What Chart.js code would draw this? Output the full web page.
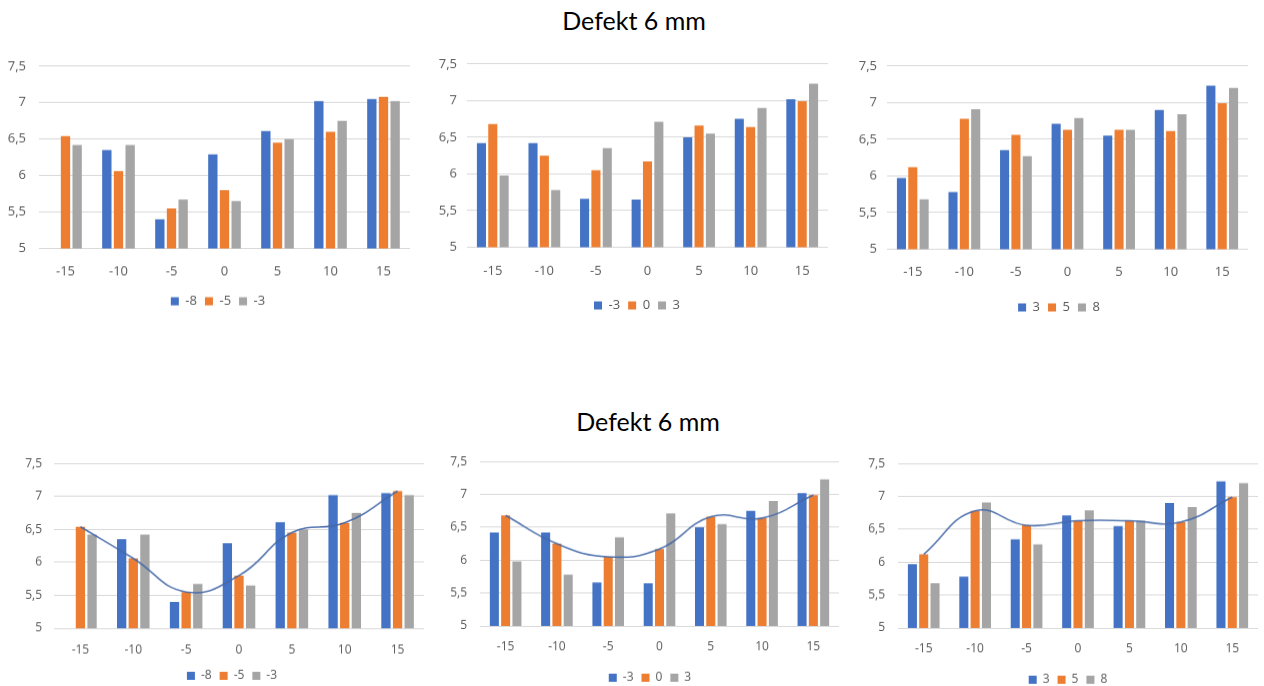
<!DOCTYPE html>
<html>
<head>
<meta charset="utf-8">
<script src="https://cdn.jsdelivr.net/npm/chart.js@4.4.1/dist/chart.umd.min.js"></script>
<style>
  html, body { margin: 0; padding: 0; background: #fff; width: 1264px; height: 686px; overflow: hidden; position: relative; }
  .ttl { position: absolute; font-family: Lato, "Open Sans", sans-serif; font-size: 25px; line-height: 25px; color: #000; white-space: nowrap; transform: translateX(-50%); }
  canvas { position: absolute; }
</style>
</head>
<body>
<div class="ttl" style="left:634px; top:8px;">Defekt 6 mm</div>
<div class="ttl" style="left:648px; top:409px;">Defekt 6 mm</div>
<script>
// Shared axes
const categories = ['-15', '-10', '-5', '0', '5', '10', '15'];
const yTicks = [5, 5.5, 6, 6.5, 7, 7.5];

// Panel 1: series -8, -5, -3
const p1Names = ['-8', '-5', '-3'];
const p1Blue = [null, 6.35, 5.40, 6.29, 6.61, 7.02, 7.05];
const p1Orange = [6.54, 6.06, 5.55, 5.80, 6.45, 6.60, 7.08];
const p1Gray = [6.42, 6.42, 5.67, 5.65, 6.50, 6.75, 7.02];

// Panel 2: series -3, 0, 3
const p2Names = ['-3', '0', '3'];
const p2Blue = [6.42, 6.42, 5.66, 5.65, 6.50, 6.75, 7.02];
const p2Orange = [6.68, 6.25, 6.05, 6.17, 6.66, 6.64, 6.99];
const p2Gray = [5.98, 5.78, 6.35, 6.71, 6.55, 6.90, 7.23];

// Panel 3: series 3, 5, 8
const p3Names = ['3', '5', '8'];
const p3Blue = [5.97, 5.78, 6.35, 6.71, 6.55, 6.90, 7.23];
const p3Orange = [6.12, 6.78, 6.56, 6.63, 6.63, 6.61, 6.99];
const p3Gray = [5.68, 6.91, 6.27, 6.79, 6.63, 6.84, 7.20];

const COLORS = ['#4472C4', '#ED7D31', '#A5A5A5'];
const TEXT = '#595959';
const GRID = '#D9D9D9';
const Y_AXIS_W = 38;

// Centres the legend row on a given x position
const legendCenter = {
  id: 'legendCenter',
  afterLayout(chart, args, opts) {
    const lg = chart.legend;
    if (!lg || opts.x == null) return;
    const w = lg.right - lg.left;
    lg.left = opts.x - w / 2;
    lg.right = opts.x + w / 2;
  }
};

// Page rectangles of each value area, with label and legend positions
const panels = [
  { plotL: 39,  plotR: 410,  plotT: 66,  plotB: 250, xLab: 272, legY: 302, legX: 218,  font: 13, yPad: 13 },
  { plotL: 467, plotR: 828,  plotT: 64,  plotB: 248, xLab: 271, legY: 306, legX: 637,  font: 13, yPad: 10 },
  { plotL: 887, plotR: 1248, plotT: 66,  plotB: 250, xLab: 272, legY: 308, legX: 1059, font: 13, yPad: 10 },
  { plotL: 54,  plotR: 424,  plotT: 463, plotB: 629, xLab: 649, legY: 676, legX: 232,  font: 12, yPad: 12 },
  { plotL: 480, plotR: 839,  plotT: 461, plotB: 627, xLab: 646, legY: 678, legX: 650,  font: 12, yPad: 13 },
  { plotL: 898, plotR: 1258, plotT: 463, plotB: 629, xLab: 648, legY: 680, legX: 1068, font: 12, yPad: 13 }
];

function makeChart(box, names, blue, orange, gray, trend) {
  const legPad = 8;
  const f = box.font;
  const legH = f + legPad + 10;
  const legTop = box.legY - (legPad + f / 2);
  const cx = box.plotL - Y_AXIS_W;
  let cy = box.plotT - 16;
  const W = box.plotR + 4 - cx;
  let H = Math.ceil(legTop + legH - cy);
  const xAxisH = legTop - box.plotB;
  const xTickPad = Math.max(0, box.xLab - box.plotB - f * 1.2 + 1);

  const canvas = document.createElement('canvas');
  canvas.width = W;
  canvas.height = H;
  canvas.style.left = cx + 'px';
  canvas.style.top = cy + 'px';
  canvas.style.width = W + 'px';
  canvas.style.height = H + 'px';
  document.body.appendChild(canvas);

  const series = [blue, orange, gray];
  const datasets = series.map((vals, i) => ({
    type: 'bar',
    label: names[i],
    data: vals,
    backgroundColor: COLORS[i],
    borderWidth: 0,
    categoryPercentage: 0.66,
    barPercentage: 0.8,
    order: 2
  }));
  if (trend) {
    // smoothed line through the middle series
    datasets.push({
      type: 'line',
      label: 'trend',
      data: orange,
      borderColor: 'rgba(68, 104, 168, 0.9)',
      borderWidth: 1.6,
      pointRadius: 0,
      tension: 0.45,
      fill: false,
      order: 1
    });
  }

  const font = { family: '"Open Sans", sans-serif', size: f };

  const chart = new Chart(canvas, {
    type: 'bar',
    data: { labels: categories, datasets },
    options: {
      responsive: false,
      animation: false,
      devicePixelRatio: 1,
      layout: { padding: { left: 0, right: 4, top: 16, bottom: 0 } },
      plugins: {
        legend: {
          position: 'bottom',
          labels: {
            boxWidth: 8,
            boxHeight: 8,
            padding: legPad,
            color: TEXT,
            font,
            filter: (item) => item.datasetIndex < 3
          }
        },
        tooltip: { enabled: false },
        legendCenter: { x: box.legX - cx }
      },
      scales: {
        x: {
          grid: { display: false },
          border: { display: false },
          ticks: { color: TEXT, font, padding: xTickPad, maxRotation: 0 },
          afterFit: (s) => { s.height = xAxisH; }
        },
        y: {
          min: 5,
          max: 7.5,
          afterBuildTicks: (s) => { s.ticks = yTicks.map((v) => ({ value: v })); },
          grid: { color: GRID, lineWidth: 1, drawTicks: false },
          border: { display: false },
          ticks: {
            color: TEXT,
            font,
            padding: box.yPad,
            callback: (v) => String(v).replace('.', ',')
          },
          afterFit: (s) => { s.width = Y_AXIS_W; }
        }
      }
    },
    plugins: [legendCenter]
  });

  // Fit the canvas so the value area lands on the wanted rectangle
  const area = chart.chartArea;
  const dTop = area.top - (box.plotT - cy);
  const dBottom = area.bottom - (box.plotB - cy);
  cy -= dTop;
  H = Math.round(H + dTop - dBottom);
  canvas.style.top = cy + 'px';
  chart.resize(W, H);
  canvas.style.width = W + 'px';
  canvas.style.height = H + 'px';
}

makeChart(panels[0], p1Names, p1Blue, p1Orange, p1Gray, false);
makeChart(panels[1], p2Names, p2Blue, p2Orange, p2Gray, false);
makeChart(panels[2], p3Names, p3Blue, p3Orange, p3Gray, false);
makeChart(panels[3], p1Names, p1Blue, p1Orange, p1Gray, true);
makeChart(panels[4], p2Names, p2Blue, p2Orange, p2Gray, true);
makeChart(panels[5], p3Names, p3Blue, p3Orange, p3Gray, true);
</script>
</body>
</html>
